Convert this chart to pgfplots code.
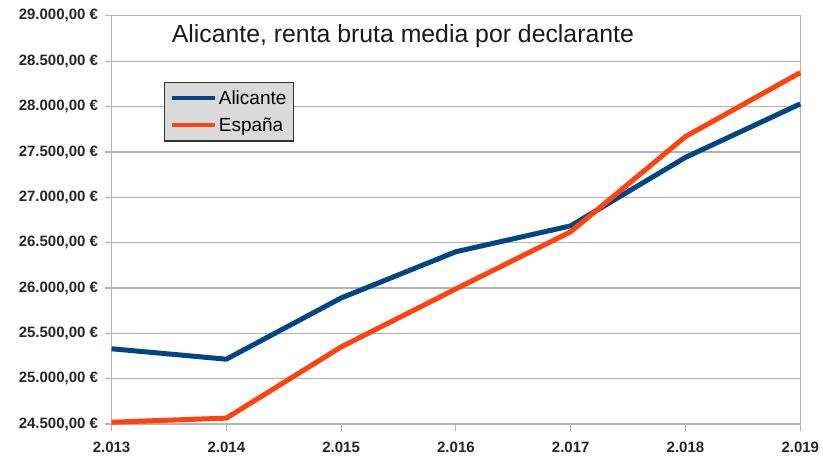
\documentclass[border=0pt]{standalone}
\usepackage{pgfplots}
\pgfplotsset{compat=1.18}
\usepackage{fontspec}
\setmainfont{Liberation Sans}
\definecolor{alic}{HTML}{004586}
\definecolor{esp}{HTML}{FF420E}
\definecolor{gridc}{HTML}{B3B3B3}
\definecolor{legbg}{HTML}{DADADA}
\begin{document}
\begin{tikzpicture}
\begin{axis}[
  scale only axis,
  width=688.5pt, height=408pt,
  xmin=2013, xmax=2019,
  ymin=24500, ymax=29000,
  scaled ticks=false,
  xtick={2013,2014,2015,2016,2017,2018,2019},
  xticklabels={2.013,2.014,2.015,2.016,2.017,2.018,2.019},
  ytick={24500,25000,25500,26000,26500,27000,27500,28000,28500,29000},
  yticklabels={{24.500,00 €},{25.000,00 €},{25.500,00 €},{26.000,00 €},{26.500,00 €},{27.000,00 €},{27.500,00 €},{28.000,00 €},{28.500,00 €},{29.000,00 €}},
  ymajorgrids,
  major grid style={gridc, line width=1.1pt},
  axis line style={gridc, line width=1.1pt},
  tick style={gridc, line width=1.1pt},
  tick align=outside,
  major tick length=7pt,
  xtick pos=bottom, ytick pos=left,
  tick label style={font=\bfseries\fontsize{15}{17}\selectfont, text=black!85},
  yticklabel style={xshift=-3pt},
  xticklabel style={yshift=-7pt},
  legend style={
    at={(rel axis cs:0.0755,0.839)}, anchor=north west,
    fill=legbg, draw=black!80, line width=1.5pt,
    font=\fontsize{19}{21}\selectfont,
    inner xsep=5pt, inner ysep=6pt,
    row sep=8pt,
    nodes={inner sep=2pt},
  },
  legend cell align=left,
  legend image code/.code={\draw[#1,line width=4.5pt] (0pt,0pt) -- (43pt,0pt);},
  clip=false,
]
\addplot[alic, line width=5pt, line join=round] coordinates {
(2013,25330) (2014,25215) (2015,25890) (2016,26400) (2017,26685) (2018,27440) (2019,28030)};
\addplot[esp, line width=5pt, line join=round] coordinates {
(2013,24520) (2014,24565) (2015,25350) (2016,25990) (2017,26620) (2018,27670) (2019,28375)};
\legend{Alicante,España}
\node[font=\fontsize{24.8}{27}\selectfont, text=black!90] at (rel axis cs:0.423,0.951) {Alicante, renta bruta media por declarante};
\path (rel axis cs:-0.162,-0.0858) (rel axis cs:1.033,1.039);
\end{axis}
\end{tikzpicture}
\end{document}
